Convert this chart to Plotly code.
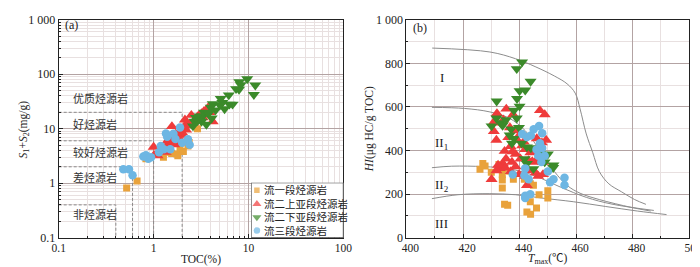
import plotly.graph_objects as go
import numpy as np

# ---------------- Panel (a) data: TOC (%) vs S1+S2 (mg/g) ----------------
series_names = ["流一段烃源岩", "流二上亚段烃源岩", "流二下亚段烃源岩", "流三段烃源岩"]

a_toc_l1 = [0.52, 0.67, 0.83, 1.27, 1.5, 1.76, 2.06, 1.9, 2.3, 2.37, 2.9, 1.55, 1.8]
a_s_l1 = [0.82, 1.1, 2.8, 3.0, 3.7, 3.45, 3.8, 4.5, 4.8, 5.6, 10.0, 3.5, 3.2]

a_toc_l2u = [1.0, 1.01, 1.1, 1.19, 1.34, 1.39, 1.5, 1.56, 1.65, 1.76, 1.83, 1.9, 1.98, 2.09, 2.14,
             2.26, 2.5, 1.45, 1.6, 1.7, 1.8, 1.55, 1.62, 2.0, 2.2, 2.35, 2.6, 2.8, 3.0, 3.2, 3.4,
             3.6, 3.8, 4.0, 4.2, 3.9, 3.3, 2.7, 1.3, 1.4, 1.7, 1.85, 2.4, 2.9, 3.5]
a_s_l2u = [4.6, 3.25, 3.2, 3.95, 3.7, 4.8, 6.2, 11.0, 5.1, 7.1, 5.8, 9.2, 7.6, 10.5, 14.6,
           12.8, 17.7, 5.5, 6.8, 8.0, 6.5, 7.5, 5.8, 8.5, 9.5, 11.5, 13.0, 15.0, 17.5, 19.0, 21.0,
           22.0, 25.0, 23.0, 13.5, 20.0, 16.0, 14.0, 4.2, 6.0, 5.5, 6.8, 12.0, 16.5, 18.0]

a_toc_l2l = [9.7, 8.0, 8.3, 11.8, 11.4, 7.95, 7.4, 5.1, 5.3, 6.3, 5.6, 4.5, 4.2, 4.1, 3.3, 3.2,
             2.7, 2.6, 3.6, 6.8, 5.0, 4.0, 3.4, 3.05, 2.9, 6.2, 2.8, 3.8]
a_s_l2l = [82, 72, 64, 63, 42, 52.6, 54, 35.5, 30, 28, 23, 22, 28.7, 15.6, 17, 13.6,
           13.6, 11.2, 12, 28, 27, 24.6, 20, 17, 14, 41.5, 16, 19]

a_toc_l3 = [0.48, 0.55, 0.6, 0.78, 0.83, 0.88, 0.94, 1.14, 1.19, 1.28, 1.39, 1.62, 1.9, 2.3, 2.4,
            1.5, 1.7, 2.0, 1.35]
a_s_l3 = [1.8, 1.8, 1.4, 3.1, 3.25, 2.8, 3.0, 3.7, 4.8, 4.2, 7.1, 8.1, 10.5, 6.4, 5.1,
          4.2, 6.5, 5.5, 8.2]

# source-rock grade thresholds (TOC %, S1+S2 mg/g)
grade_toc = [0.4, 0.6, 1.0, 2.0]
grade_s = [0.4, 2.0, 6.0, 20.0]
grade_labels = ["非烃源岩", "差烃源岩", "较好烃源岩", "好烃源岩", "优质烃源岩"]
grade_label_y = [0.265, 1.25, 3.7, 12.0, 36.0]

# ---------------- Panel (b) data: Tmax vs HI ----------------
b_t_l1 = [426, 427, 427.8, 430, 432.7, 433.9, 433.9, 433.9, 433.9, 437.8, 434.7, 435.8, 441.7,
          443.8, 444.9, 443.8, 442.6, 443.9, 446, 446.9, 450, 450, 436.5]
b_hi_l1 = [314, 340, 329, 300, 336, 318, 290, 265, 228, 268, 153, 149, 268,
           247, 240, 165, 118, 108, 136, 197, 215, 182, 305]

b_t_l2u = [435.3, 432, 437.7, 447.2, 448.9, 434.3, 430.7, 431.8, 430.9, 436.6, 438.6, 440.3,
           439.2, 436.8, 434.7, 442, 443.8, 446.1, 447.9, 449.4, 438.6, 440.9, 440.3, 435.2,
           434.1, 437.3, 438.6, 433, 431.8, 430.1, 436.9, 439.8, 442, 443.2, 445.5, 447.2,
           448.3, 443.2, 446.6, 448.3, 442.6, 445.7, 432.4, 436, 441.5, 444.5, 437.5, 435]
b_hi_l2u = [591, 570, 565, 584, 565, 541, 527, 448, 488, 505, 491, 476,
            448, 419, 397, 405, 390, 455, 436, 448, 383, 422, 362, 362,
            340, 347, 326, 318, 308, 268, 304, 290, 283, 308, 347, 362,
            347, 354, 283, 290, 240, 297, 333, 460, 440, 350, 395, 320]

b_t_l2l = [440.9, 439, 443.9, 440, 442, 439.1, 440, 431.9, 438, 439, 431.8, 430.1, 433.2,
           435.2, 437, 439.8, 438, 437.3, 440.7, 442.6, 444, 441.8, 442.6, 444.9, 447.3,
           448.9, 450, 448.9, 452, 451.9, 434, 436.5]
b_hi_l2l = [806, 775, 717, 674, 677, 638, 603, 626, 584, 548, 548, 512, 527,
            541, 498, 505, 455, 433, 433, 416, 412, 362, 340, 316, 383,
            376, 383, 347, 333, 321, 515, 470]

b_t_l3 = [440.9, 442.6, 444, 445, 446.9, 448, 446, 448, 447.2, 446.6, 448.9, 447.7, 442,
          441.7, 437.6, 442, 442, 443.8, 450, 450.8, 452, 455.9, 455.9, 443.2]
b_hi_l3 = [476, 462, 469, 498, 512, 479, 405, 412, 433, 376, 376, 347, 318,
           285, 290, 192, 182, 199, 304, 254, 268, 275, 242, 268]

# kerogen type boundary curves (Tmax, HI)
curve1_t = [409.1, 429.5, 438.6, 445.5, 452.3, 456.8, 459.7, 461.4, 463.6, 465.9, 468.2, 471.6, 476, 480.7, 484.7]
curve1_hi = [870, 852, 821, 785, 742, 706, 663, 591, 476, 390, 304, 247, 211, 175, 153]
curve2_t = [409, 420.5, 429.5, 436.4, 442, 447.7, 452.3, 456.8, 461.4, 468.2, 479.5, 486.4]
curve2_hi = [598, 593, 577, 548, 491, 390, 304, 240, 204, 175, 139, 122]
curve3_t = [409, 416, 427.3, 436.4, 445.5, 454.5, 463.6, 472.7, 487.5]
curve3_hi = [321, 328, 326, 316, 283, 232, 185, 154, 125]
curve4_t = [409, 418.2, 429.5, 438.6, 447.7, 459, 470.5, 481.8, 492]
curve4_hi = [179, 197, 202, 197, 182, 165, 143, 122, 106]
type_labels = ["I", "II<sub>1</sub>", "II<sub>2</sub>", "III"]
type_label_hi = [735, 433, 240, 63]

colors = ["#E9A23B", "#EF3B3B", "#3B8A2A", "#6DB6E3"]
symbols = ["square", "triangle-up", "triangle-down", "circle"]
sizes = [7, 10.5, 10.5, 8.5]
legend_sizes = [5.5, 8, 8, 6.5]

FONT = "Liberation Serif, Times New Roman, Noto Sans CJK SC, serif"
MAJ = "#b3a3a3"
MIN = "#e8e0e0"
W, H = 700, 267
BOT = 235  # plot-area bottom in page px

fig = go.Figure()

a_sets = [(a_toc_l1, a_s_l1), (a_toc_l2u, a_s_l2u), (a_toc_l2l, a_s_l2l), (a_toc_l3, a_s_l3)]
b_sets = [(b_t_l1, b_hi_l1), (b_t_l2u, b_hi_l2u), (b_t_l2l, b_hi_l2l), (b_t_l3, b_hi_l3)]

# dashed grade lines panel (a)
for t, s in zip(grade_toc, grade_s):
    fig.add_trace(go.Scatter(x=[0.1, t, t], y=[s, s, 0.1], mode="lines",
                             line=dict(color="#8a8a8a", width=1, dash="3px,2px"),
                             showlegend=False, hoverinfo="skip", xaxis="x", yaxis="y"))

for i, (xs, ys) in enumerate(a_sets):
    fig.add_trace(go.Scatter(x=xs, y=ys, mode="markers", name=series_names[i], showlegend=False,
                             marker=dict(symbol=symbols[i], color=colors[i], size=sizes[i], line=dict(width=0)),
                             xaxis="x", yaxis="y"))

for ct, ch in [(curve1_t, curve1_hi), (curve2_t, curve2_hi), (curve3_t, curve3_hi), (curve4_t, curve4_hi)]:
    fig.add_trace(go.Scatter(x=ct, y=ch, mode="lines", line=dict(color="#8c8c8c", width=1, shape="spline"),
                             showlegend=False, hoverinfo="skip", xaxis="x2", yaxis="y2"))

for i, (xs, ys) in enumerate(b_sets):
    fig.add_trace(go.Scatter(x=xs, y=ys, mode="markers", name=series_names[i], showlegend=False,
                             marker=dict(symbol=symbols[i], color=colors[i], size=sizes[i], line=dict(width=0)),
                             xaxis="x2", yaxis="y2"))

# ---- custom legend box (pixel-unit axes inside the box) ----
box_px = (243, 338, 177, BOT)  # left, right, top, bottom in page px
box_w = box_px[1] - box_px[0]
box_h = box_px[3] - box_px[2]
row_y = [box_h - 8, box_h - 22.5, box_h - 36.5, box_h - 50.5]
fig.add_trace(go.Scatter(x=[6] * 4, y=row_y, mode="markers", showlegend=False, hoverinfo="skip",
                         marker=dict(symbol=symbols, color=colors, size=legend_sizes, line=dict(width=0)),
                         xaxis="x3", yaxis="y3"))

ann = []
for lab, yv in zip(grade_labels, grade_label_y):
    ann.append(dict(x=np.log10(0.135), y=np.log10(yv), xref="x", yref="y", text=lab, showarrow=False,
                    xanchor="left", yanchor="middle", font=dict(size=11, color="#333", family=FONT)))
for lab, yv in zip(type_labels, type_label_hi):
    ann.append(dict(x=412.5, y=yv, xref="x2", yref="y2", text=lab, showarrow=False,
                    xanchor="center", yanchor="middle", font=dict(size=13, color="#222", family=FONT)))
ann.append(dict(x=np.log10(0.11), y=np.log10(800), xref="x", yref="y", text="(a)", showarrow=False,
                xanchor="left", yanchor="middle", font=dict(size=12, color="#222", family=FONT)))
ann.append(dict(x=401.5, y=960, xref="x2", yref="y2", text="(b)", showarrow=False,
                xanchor="left", yanchor="middle", font=dict(size=12, color="#222", family=FONT)))
for lab, yv in zip(series_names, row_y):
    ann.append(dict(x=11, y=yv, xref="x3", yref="y3", text=lab, showarrow=False,
                    xanchor="left", yanchor="middle", font=dict(size=10.5, color="#222", family=FONT)))
# axis titles
ann.append(dict(x=(45 + 338) / 2 / W, y=0, xref="paper", yref="paper", text="TOC(%)", showarrow=False,
                xanchor="center", yanchor="bottom", font=dict(size=11.5, color="#222", family=FONT)))
ann.append(dict(x=(403 + 694) / 2 / W, y=0, xref="paper", yref="paper",
                text="<i>T</i><sub>max</sub>(℃)", showarrow=False,
                xanchor="center", yanchor="bottom", font=dict(size=11.5, color="#222", family=FONT)))
ann.append(dict(x=9 / W, y=1 - 121 / H, xref="paper", yref="paper",
                text="<i>S</i><sub>1</sub>+<i>S</i><sub>2</sub>(mg/g)", showarrow=False, textangle=-90,
                xanchor="center", yanchor="middle", font=dict(size=11.5, color="#222", family=FONT)))
ann.append(dict(x=365 / W, y=1 - 121 / H, xref="paper", yref="paper",
                text="<i>HI</i>(μg HC/g TOC)", showarrow=False, textangle=-90,
                xanchor="center", yanchor="middle", font=dict(size=11.5, color="#222", family=FONT)))

shapes = [dict(type="rect", xref="x3", yref="y3", x0=0, x1=box_w, y0=0, y1=box_h, layer="below",
               fillcolor="white", line=dict(color="#222", width=1))]

common = dict(showline=True, linecolor="#222", linewidth=1, mirror=True, ticks="inside",
              ticklen=4, tickcolor="#222", tickfont=dict(family=FONT, size=12, color="#222"),
              gridcolor=MAJ, gridwidth=1, zeroline=False, ticklabeloverflow="allow")
xfont = dict(family=FONT, size=11.5, color="#222")

fig.update_layout(
    width=W, height=H, margin=dict(l=0, r=0, t=0, b=0),
    paper_bgcolor="white", plot_bgcolor="white",
    font=dict(family=FONT, color="#222"),
    showlegend=False,
    xaxis=dict(domain=[45 / W, 338 / W], type="log", range=[-1, 2], anchor="y",
               tickvals=[0.1, 1, 10, 100], ticktext=["0.1", "1", "10", "100"],
               minor=dict(dtick="D1", showgrid=True, gridcolor=MIN, ticks="inside", ticklen=2, tickcolor="#222"),
               **{**common, "tickfont": xfont}),
    yaxis=dict(domain=[1 - BOT / H, 1 - 5 / H], type="log", range=[-1, 3], anchor="x",
               tickvals=[0.1, 1, 10, 100, 1000], ticktext=["0.1", "1", "10", "100", "1 000"],
               minor=dict(dtick="D1", showgrid=True, gridcolor=MIN, ticks="inside", ticklen=2, tickcolor="#222"),
               **common),
    xaxis2=dict(domain=[403 / W, 694 / W], range=[400, 500], anchor="y2", dtick=20, ticklabelshift=4,
                minor=dict(dtick=10, showgrid=True, gridcolor=MIN, ticks="inside", ticklen=2, tickcolor="#222"),
                **{**common, "tickfont": xfont}),
    yaxis2=dict(domain=[1 - BOT / H, 1 - 5 / H], range=[0, 1000], anchor="x2",
                tickvals=[0, 200, 400, 600, 800, 1000], ticktext=["0", "200", "400", "600", "800", "1 000"],
                minor=dict(dtick=100, showgrid=True, gridcolor=MIN, ticks="inside", ticklen=2, tickcolor="#222"),
                **common),
    xaxis3=dict(domain=[box_px[0] / W, box_px[1] / W], range=[0, box_w], anchor="y3",
                visible=False, fixedrange=True),
    yaxis3=dict(domain=[1 - box_px[3] / H, 1 - box_px[2] / H], range=[0, box_h], anchor="x3",
                visible=False, fixedrange=True),
    annotations=ann,
    shapes=shapes,
)

fig.write_html("out.html")
